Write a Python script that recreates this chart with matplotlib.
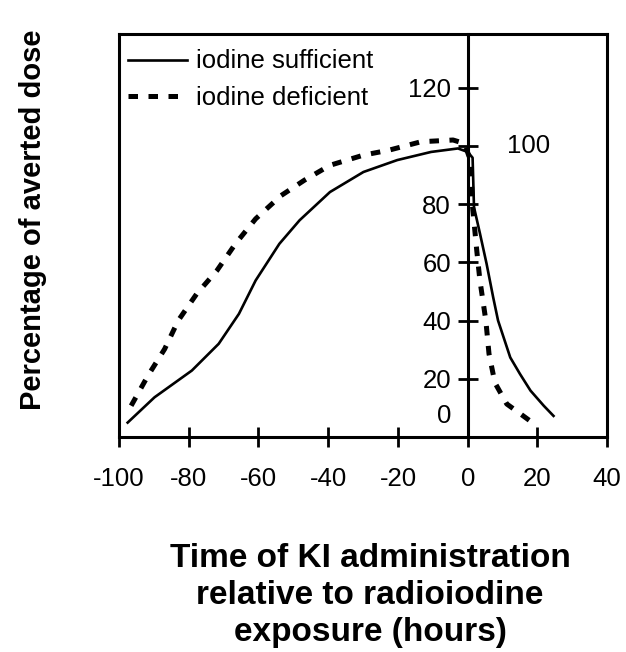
import matplotlib
matplotlib.use("Agg")
import matplotlib.pyplot as plt
import matplotlib.transforms as mtransforms

plt.rcParams['font.family'] = ['Liberation Sans', 'DejaVu Sans']

# Data
suff_x = [-97.5, -89.8, -79.1, -71.4, -65.6, -60.8, -54.0, -48.2, -39.5, -29.9, -20.2, -10.5, -2.8, 0.0,
          1.4, 1.8, 3.5, 5.4, 7.3, 8.7, 12.2, 15.0, 18.0, 21.8, 24.6]
suff_y = [4.9, 13.6, 22.8, 32.0, 42.3, 53.8, 66.4, 74.5, 84.2, 91.1, 95.2, 98.0, 99.2, 98.0,
          96.0, 79.0, 70.0, 59.6, 48.0, 40.0, 27.3, 21.6, 15.9, 10.7, 7.2]

def_x = [-96.5, -91.7, -86.9, -83.0, -77.7, -71.9, -66.6, -60.8, -53.5, -46.8, -39.5, -29.9, -22.6,
         -13.4, -4.2, -0.9, 0.8, 1.4, 2.6, 3.5, 5.2, 6.1, 7.8, 11.2, 15.0, 19.0]
def_y = [10.7, 21.0, 30.2, 40.0, 49.2, 57.2, 66.4, 75.0, 83.0, 88.3, 93.4, 96.9, 98.6,
         101.5, 102.1, 100.9, 95.0, 79.0, 64.0, 53.8, 40.0, 28.6, 18.6, 11.3, 8.0, 4.5]

x_ticks = [-100, -80, -60, -40, -20, 0, 20, 40]
y_ticks = [0, 20, 40, 60, 80, 100, 120]
labels = ['iodine sufficient', 'iodine deficient']

fig = plt.figure(figsize=(6.26, 6.52), dpi=100)
ax = fig.add_axes([0.190, 0.330, 0.780, 0.618])

ax.plot(suff_x, suff_y, color='black', lw=1.9, label=labels[0])
ax.plot(def_x, def_y, color='black', lw=3.6, linestyle=(0, (1.9, 2.1)), label=labels[1])

ax.set_xlim(-100, 40)
ax.set_ylim(0, 138.6)

for s in ax.spines.values():
    s.set_linewidth(2.2)
ax.spines['left'].set_position(('data', 0))
ax.axvline(-100, color='black', lw=2.2, clip_on=False)

ax.set_xticks(x_ticks)
ax.set_xticklabels([str(v) for v in x_ticks])
ax.tick_params(axis='x', direction='inout', length=14, width=2.0, labelsize=18.5, pad=15)

ax.set_yticks(y_ticks)
ylabels = [str(v) if v != 100 else '' for v in y_ticks]
ax.set_yticklabels(ylabels)
ax.tick_params(axis='y', direction='inout', length=14, width=2.0, labelsize=18.5, pad=5)
# shift the "0" label up as in the reference
lab0 = ax.get_yticklabels()[0]
lab0.set_transform(lab0.get_transform() + mtransforms.ScaledTranslation(0, 0.23, fig.dpi_scale_trans))
ax.get_yticklines()[0].set_visible(False)
ax.get_yticklines()[1].set_visible(False)
ax.text(11.3, 100, '100', fontsize=18.5, va='center', ha='left')

ax.legend(loc='upper left', bbox_to_anchor=(-0.005, 0.99), frameon=False, fontsize=18.5,
          handlelength=2.3, handletextpad=0.35, borderaxespad=0.05, labelspacing=0.5)

fig.text(0.052, 0.663, 'Percentage of averted dose', rotation=90, fontsize=21,
         fontweight='bold', ha='center', va='center')
fig.text(0.591, 0.086, 'Time of KI administration\nrelative to radioiodine\nexposure (hours)',
         fontsize=24, fontweight='bold', ha='center', va='center', linespacing=1.25)

fig.savefig('out.png', dpi=100)
